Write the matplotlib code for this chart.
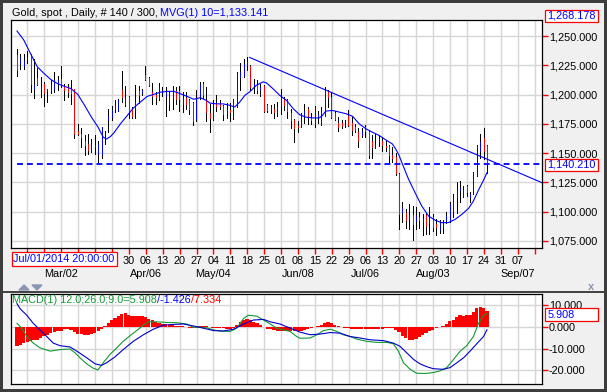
import matplotlib
matplotlib.use("Agg")
import matplotlib.pyplot as plt
from matplotlib.patches import Rectangle, Polygon
from matplotlib.transforms import blended_transform_factory

plt.rcParams['font.family'] = ['Liberation Sans', 'DejaVu Sans']

# daily OHLC, 140 bars (index 0 = first visible bar)
opens = [1234, 1227, 1224, 1230, 1235, 1205, 1214, 1205, 1209, 1203,
         1204, 1205, 1210, 1213, 1206, 1206, 1205, 1205, 1169, 1166,
         1160, 1158, 1153, 1155, 1150, 1149, 1165, 1178, 1181, 1188,
         1186, 1204, 1192, 1198, 1188, 1187, 1203, 1201, 1217, 1214,
         1202, 1200, 1197, 1202, 1199, 1192, 1197, 1203, 1203, 1192,
         1197, 1195, 1193, 1179, 1199, 1209, 1195, 1184, 1179, 1192,
         1193, 1190, 1184, 1187, 1180, 1189, 1215, 1216, 1225, 1224,
         1207, 1208, 1204, 1207, 1191, 1187, 1188, 1185, 1190, 1196,
         1195, 1184, 1178, 1173, 1172, 1182, 1188, 1180, 1175, 1181,
         1175, 1182, 1203, 1198, 1184, 1176, 1176, 1174, 1182, 1176,
         1172, 1168, 1165, 1172, 1168, 1160, 1155, 1160, 1160, 1156,
         1156, 1148, 1147, 1132, 1100, 1099, 1094, 1097, 1092, 1095,
         1091, 1097, 1090, 1095, 1089, 1084, 1086, 1093, 1093, 1100,
         1112, 1118, 1113, 1122, 1112, 1116, 1131, 1152, 1163, 1156]
highs = [1239, 1235, 1235, 1237, 1235, 1230, 1223, 1215, 1211, 1205,
         1212, 1219, 1216, 1224, 1209, 1209, 1212, 1205, 1175, 1171,
         1165, 1166, 1162, 1165, 1160, 1172, 1169, 1188, 1190, 1195,
         1196, 1220, 1207, 1199, 1189, 1208, 1207, 1205, 1224, 1215,
         1210, 1202, 1210, 1206, 1206, 1203, 1207, 1206, 1207, 1202,
         1202, 1196, 1194, 1204, 1211, 1211, 1206, 1192, 1195, 1200,
         1195, 1191, 1193, 1193, 1196, 1219, 1227, 1230, 1232, 1225,
         1213, 1212, 1209, 1208, 1192, 1191, 1192, 1194, 1205, 1198,
         1196, 1188, 1179, 1177, 1184, 1192, 1189, 1184, 1190, 1186,
         1189, 1206, 1204, 1202, 1186, 1181, 1178, 1178, 1187, 1181,
         1175, 1171, 1171, 1174, 1169, 1165, 1166, 1165, 1164, 1161,
         1157, 1155, 1150, 1133, 1108, 1102, 1106, 1105, 1104, 1100,
         1098, 1099, 1104, 1098, 1094, 1093, 1093, 1100, 1108, 1115,
         1125, 1126, 1122, 1123, 1117, 1134, 1157, 1166, 1171, 1157]
lows = [1216, 1222, 1222, 1227, 1202, 1197, 1208, 1198, 1190, 1194,
        1201, 1202, 1204, 1206, 1195, 1198, 1192, 1163, 1165, 1155,
        1148, 1149, 1151, 1149, 1142, 1146, 1158, 1168, 1178, 1185,
        1186, 1194, 1190, 1180, 1180, 1180, 1193, 1200, 1212, 1207,
        1192, 1192, 1195, 1199, 1182, 1187, 1188, 1192, 1186, 1185,
        1188, 1183, 1174, 1177, 1196, 1197, 1177, 1168, 1178, 1186,
        1188, 1178, 1180, 1177, 1179, 1189, 1204, 1215, 1221, 1204,
        1201, 1201, 1199, 1185, 1185, 1184, 1180, 1182, 1183, 1187,
        1180, 1171, 1159, 1168, 1172, 1176, 1175, 1175, 1172, 1176,
        1174, 1182, 1189, 1180, 1178, 1169, 1171, 1172, 1173, 1165,
        1168, 1155, 1164, 1164, 1146, 1146, 1154, 1156, 1152, 1152,
        1142, 1142, 1131, 1085, 1091, 1086, 1085, 1076, 1085, 1086,
        1080, 1081, 1081, 1083, 1080, 1082, 1082, 1090, 1091, 1095,
        1099, 1108, 1112, 1113, 1108, 1115, 1130, 1146, 1145, 1133]
closes = [1221, 1232, 1229, 1232, 1209, 1208, 1209, 1207, 1201, 1205,
          1208, 1212, 1212, 1208, 1204, 1202, 1201, 1166, 1166, 1164,
          1157, 1153, 1158, 1157, 1158, 1172, 1167, 1182, 1187, 1191,
          1195, 1198, 1197, 1185, 1182, 1194, 1200, 1204, 1213, 1208,
          1199, 1198, 1206, 1203, 1203, 1201, 1202, 1196, 1196, 1197,
          1192, 1188, 1177, 1196, 1208, 1200, 1185, 1180, 1193, 1190,
          1190, 1183, 1188, 1185, 1195, 1218, 1219, 1226, 1228, 1206,
          1209, 1204, 1206, 1186, 1187, 1189, 1185, 1189, 1197, 1191,
          1186, 1178, 1171, 1172, 1182, 1186, 1181, 1178, 1189, 1183,
          1186, 1205, 1198, 1181, 1179, 1172, 1173, 1175, 1174, 1170,
          1170, 1160, 1169, 1169, 1148, 1155, 1158, 1162, 1157, 1155,
          1148, 1146, 1133, 1098, 1103, 1093, 1097, 1089, 1096, 1093,
          1094, 1088, 1094, 1087, 1087, 1091, 1089, 1096, 1106, 1112,
          1118, 1120, 1118, 1117, 1115, 1133, 1156, 1159, 1152, 1140.21]

# 10-day moving average (bar index, value)
ma_idx = [0, 2, 4, 6, 8, 10, 12, 14, 16, 18, 20, 22, 24, 25.5, 26.5, 27.6,
          28.6, 30.6, 32.6, 34.5, 36.5, 38.5, 40.5, 42.4, 44.4, 46.4, 48.3,
          50.3, 52.3, 54.2, 56, 57, 59, 61, 63, 64.4, 65.9, 67.4, 68.8, 70.8,
          72.8, 73.8, 75.7, 77.7, 79.7, 81.7, 83.6, 85.4, 87.4, 89.4, 90.3,
          91.3, 93.3, 95.3, 97.3, 99.3, 101.2, 103.2, 105.1, 107.1, 109.1,
          111, 112, 113, 113.8, 115.8, 117.7, 119.7, 121.7, 123.7, 125.6,
          127.6, 129.6, 131.6, 133.6, 135, 136.4, 137.9, 139]
ma_val = [1254.3, 1246.6, 1235, 1223.7, 1218, 1212.8, 1209.3, 1207, 1205,
          1200, 1190.7, 1180.7, 1172, 1163.5, 1162, 1164, 1167, 1175, 1182,
          1188.7, 1193.6, 1198.4, 1200.2, 1202, 1202.7, 1202.7, 1200.7,
          1198.4, 1195.9, 1197.3, 1195, 1192.7, 1192, 1192, 1190.7, 1189.3,
          1193.6, 1199.3, 1202.2, 1207.9, 1210.8, 1209.9, 1205, 1199.3, 1195,
          1187.9, 1182.7, 1180.7, 1180, 1180, 1182, 1185.8, 1186.4, 1185,
          1183.6, 1181.3, 1175, 1170.7, 1167.8, 1165, 1161.2, 1157.8, 1153.5,
          1148, 1142, 1127.7, 1116.3, 1104.8, 1096.2, 1092.5, 1090.5, 1090.5,
          1093.3, 1097.6, 1102.8, 1109, 1117.7, 1126.3, 1133.1]

trend_x = [68.8, 155.3]
trend_y = [1231.7, 1124.6]
last_price = 1140.21

# MACD panel
macd_idx = [0, 1.4, 2.9, 4.8, 6.8, 9.8, 12.7, 15.7, 17.2, 18.6, 20.6, 22.6,
            23.9, 25.5, 27.5, 29.5, 31.4, 33.4, 35.4, 37.4, 38.9, 41.3, 44.3,
            47.2, 50.2, 52.2, 54.1, 56.1, 58.1, 60, 63, 65, 67, 68.4, 70.9,
            72.9, 74.9, 76.8, 78.8, 80.8, 82.7, 83.7, 86.7, 88.7, 90.7, 92.7,
            94.6, 96.5, 98.5, 100.5, 103.4, 106.4, 109.3, 111.3, 112.8, 114.3,
            116.3, 118.2, 120.7, 123.1, 125.1, 127.1, 129.1, 131.1, 133, 135,
            136.5, 138, 139]
macd_val = [1.5, -0.7, -4.5, -7.5, -9.7, -11.2, -10.5, -10.2, -12, -14.2,
            -17, -19, -19.8, -16.5, -12.7, -9.7, -6.7, -4.2, -1.8, 0.7, 2.2,
            2.2, 1.9, 1.8, 1.2, -0.3, -0.3, -0.5, -1.5, -2, -2.2, -0.7, 3.7,
            5.2, 4.8, 3, 1.2, -0.7, -1.5, -2.2, -4.5, -5.3, -5.2, -3.7, -1.8,
            -1.2, -2.2, -3.7, -4.5, -5.7, -6.7, -7.2, -7.2, -7.8, -11.2, -16.5,
            -19.5, -21.3, -21.4, -21, -20.2, -18.7, -15, -11.2, -8.7, -4.5,
            1.5, 5.2, 5.908]
sig_idx = [0, 0.9, 2.9, 4.8, 6.8, 8.8, 10.7, 12.7, 15.7, 17.7, 20.6, 23.1,
           25, 26.5, 29, 31.4, 34.4, 37.4, 40.3, 43.3, 46.3, 49.2, 52.2, 55.1,
           58.1, 61, 64, 67, 69.9, 72.9, 74.9, 77.8, 80.8, 83.7, 86.7, 89.7,
           92.6, 95.6, 98.5, 101.5, 104.4, 108.4, 111.3, 113.3, 115.3, 117.3,
           119.2, 121.2, 123.1, 126.1, 128.1, 130.1, 132.1, 134, 136, 138, 139]
sig_val = [10.5, 8.2, 5.2, 1.5, -1.5, -4.5, -7.5, -8.7, -9.3, -11.2, -14.2,
           -17, -17.7, -16.5, -13.8, -10.5, -6.7, -3.7, -1.2, 0.7, 1, 1.2,
           0.3, -0.7, -1.8, -2, -1.2, 1.2, 3, 3.3, 2.2, 1.2, -0.7, -2.5, -3.7,
           -3.4, -2.7, -3, -4.5, -5.2, -6, -6.4, -7.5, -9, -12, -15, -17,
           -18.3, -19.2, -19.5, -18.7, -16.5, -14.2, -11.2, -7.8, -4.5, -1.426]
hist = [-8.7, -8.5, -7.5, -7.0, -6.7, -6.3, -6.0, -5.2, -4.5, -4.0,
        -3.0, -2.5, -2.0, -1.8, -1.2, -1.0, -1.5, -2.5, -3.2, -3.4,
        -3.6, -3.7, -3.3, -2.8, -2.0, -1.0, 0.2, 1.5, 3.0, 4.0,
        5.0, 5.8, 6.0, 5.5, 4.8, 4.8, 5.0, 5.0, 4.5, 3.5,
        2.8, 2.0, 1.5, 1.2, 1.0, 0.8, 0.7, 0.5, 0.3, 0.2,
        -0.1, -0.5, -0.8, -0.5, 0.3, 0.5, 0.3, -0.3, -0.5, -0.6,
        -0.7, -0.8, -0.9, -1.0, -0.8, 0.8, 2.2, 3.2, 3.5, 3.0,
        2.2, 1.5, 0.8, -0.3, -1.0, -1.3, -1.5, -1.8, -2.0, -2.0,
        -2.0, -1.8, -1.8, -2.2, -2.0, -1.5, -1.2, -0.8, -0.3, 0.3,
        0.8, 1.5, 2.0, 1.5, 0.8, 0.3, -0.2, -0.5, -0.7, -0.9,
        -1.0, -1.0, -1.0, -0.9, -1.1, -1.2, -1.1, -1.0, -0.9, -0.8,
        -0.7, -0.7, -1.5, -2.5, -4.2, -5.2, -6.0, -6.2, -5.8, -4.8,
        -3.8, -3.0, -2.2, -1.5, -0.8, -0.3, 0.5, 1.2, 2.5, 3.2,
        4.5, 5.2, 5.0, 5.2, 5.3, 6.5, 8.5, 9.0, 8.5, 7.334]

price_levels = [1075, 1100, 1125, 1150, 1175, 1200, 1225, 1250]
macd_levels = [10, 0, -10, -20]
# the first six weekly labels sit under the cursor-date box and are not shown
day_labels = ['', '', '', '', '', '', '30', '06', '13', '20', '27',
              '04', '11', '18', '25', '01', '08', '15', '22', '29', '06', '13',
              '20', '27', '03', '10', '17', '24', '31', '07', '']
month_labels = ['Mar/02', 'Apr/06', 'May/04', 'Jun/08', 'Jul/06', 'Aug/03', 'Sep/07']
month_week = [2, 7, 11, 16, 20, 24, 29]

W, H = 607, 392
BG = '#f0f0f0'
GRID = '#d6d6d6'
BLUE = '#0000ff'
GREEN = '#119933'


def fx(px):
    return px / W


def fy(py):
    return 1 - py / H


fig = plt.figure(figsize=(W / 100, H / 100), dpi=100, facecolor=BG)
ax = fig.add_axes([fx(11), fy(248), 531 / W, 228 / H])
ax2 = fig.add_axes([fx(11), fy(384), 531 / W, 90 / H])

week_pos = [3.1 + 5 * k for k in range(len(day_labels))]
xlim = (-1.775, 155.28)

# ---- price panel ----
n = len(closes)
xs = list(range(n))
ax.vlines(xs, lows, highs, color='black', lw=0.72, antialiased=False, zorder=3)
body_lo = [min(o, c) for o, c in zip(opens, closes)]
body_hi = [max(o, c) for o, c in zip(opens, closes)]
body_col = ['#ff0000' if c < o else BLUE for o, c in zip(opens, closes)]
ax.vlines(xs, body_lo, body_hi, colors=body_col, lw=0.72, antialiased=False, zorder=4)
ax.plot(ma_idx, ma_val, color=BLUE, lw=0.8, zorder=5)
ax.plot(trend_x, trend_y, color=BLUE, lw=0.8, zorder=5)
ax.hlines(last_price, 0, xlim[1], colors=BLUE, lw=1.3,
          linestyles=(0, (3.3, 2.2)), zorder=5)

ax.set_xlim(*xlim)
ax.set_ylim(1068.8, 1263.7)
ax.set_yticks(price_levels)
ax.set_yticklabels([f"{v:,.3f}" for v in price_levels])
ax.yaxis.tick_right()
ax.set_xticks(week_pos)
ax.set_xticklabels(day_labels)
ax.grid(True, color=GRID, lw=1.0, zorder=0)
ax.tick_params(axis='y', colors='red', labelcolor='black', length=4, width=1,
               labelsize=7.8, pad=1)
ax.tick_params(axis='x', colors='red', labelcolor='black', length=4, width=1,
               labelsize=7.8, pad=1.5)
for s in ax.spines.values():
    s.set_linewidth(0.9)
    s.set_color('black')

tr = blended_transform_factory(ax.transData, fig.transFigure)
for lab, wk in zip(month_labels, month_week):
    ax.text(week_pos[wk], fy(274), lab, transform=tr, ha='center', va='center',
            fontsize=7.8)

# ---- MACD panel ----
ax2.bar(xs, hist, width=0.95, color='#ff0000', zorder=2)
ax2.plot(macd_idx, macd_val, color=GREEN, lw=0.8, zorder=3)
ax2.plot(sig_idx, sig_val, color='#0000cc', lw=0.8, zorder=3)
ax2.set_xlim(*xlim)
ax2.set_ylim(-26.2, 14.9)
ax2.set_yticks(macd_levels)
ax2.set_yticklabels([f"{v:.3f}" for v in macd_levels])
ax2.yaxis.tick_right()
ax2.set_xticks(week_pos)
ax2.set_xticklabels([])
ax2.grid(True, color=GRID, lw=1.0, zorder=0)
ax2.tick_params(axis='y', colors='red', labelcolor='black', length=4, width=1,
                labelsize=7.8, pad=1)
ax2.tick_params(axis='x', length=0)
for s in ax2.spines.values():
    s.set_linewidth(0.9)
    s.set_color('black')

# ---- texts and chrome ----
renderer = fig.canvas.get_renderer()


def parts_text(x, y, parts):
    for s, c in parts:
        t = fig.text(x, y, s, color=c, fontsize=7.8, va='center', ha='left')
        bb = t.get_window_extent(renderer=renderer)
        x = bb.x1 / fig.bbox.width


parts_text(fx(11.5), fy(13.5), [("Gold, spot , Daily, # 140 / 300, ", 'black'),
                                ("MVG(1) 10=1,133.141", BLUE)])
parts_text(fx(12.5), fy(300), [("MACD(1) 12.0;26.0;9.0=5.908", GREEN),
                               ("/-1.426", BLUE), ("/7.334", '#ff0000')])


def label_box(x0, y0, x1, y1, text, tx):
    fig.add_artist(Rectangle((fx(x0), fy(y1)), fx(x1) - fx(x0), fy(y0) - fy(y1),
                             transform=fig.transFigure, facecolor='white',
                             edgecolor='#ff0000', lw=0.9))
    fig.text(fx(tx), fy((y0 + y1) / 2), text, color=BLUE, fontsize=7.8,
             va='center', ha='left')


label_box(545, 10, 598, 21.7, "1,268.178", 547.5)
label_box(545, 159, 598, 170.5, "1,140.210", 547.5)
label_box(545, 308.3, 598, 320.7, "5.908", 547.5)
label_box(11.7, 251.7, 117, 266, "Jul/01/2014 20:00:00", 13)

# panel separator and buttons
fig.add_artist(plt.Line2D([0, 1], [fy(292), fy(292)], transform=fig.transFigure,
                          color='#404040', lw=1.4))
btn = '#8a96b4'
fig.add_artist(Polygon([(fx(19), fy(290)), (fx(29), fy(290)), (fx(24), fy(285))],
                       closed=True, transform=fig.transFigure, color=btn))
fig.add_artist(Polygon([(fx(32), fy(285)), (fx(42), fy(285)), (fx(37), fy(290))],
                       closed=True, transform=fig.transFigure, color=btn))
fig.text(fx(591), fy(287.5), "x", color=btn, fontsize=8, fontweight='bold',
         ha='center', va='center')

# outer dark frame
fig.add_artist(Rectangle((0, 0), 1, 1, transform=fig.transFigure, fill=False,
                         edgecolor='#3c3c3c', lw=4.3))

fig.savefig("out.png", dpi=100, facecolor=BG)
